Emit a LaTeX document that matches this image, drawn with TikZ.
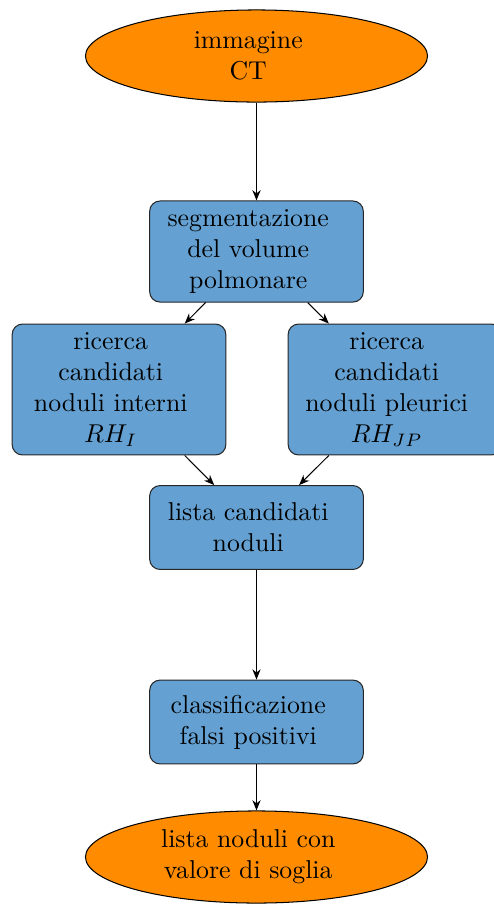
\documentclass[tikz,border=0pt]{standalone}
\usetikzlibrary{shapes.geometric,arrows.meta}
\definecolor{boxblue}{RGB}{100,161,210}
\definecolor{termorange}{RGB}{255,140,0}
\newcommand\padr{\kern6.4pt\relax}
\begin{document}
\begin{tikzpicture}[x=0.3876pt,y=-0.3876pt,
  blk/.style={rectangle, rounded corners=4pt, draw=black!85, fill=boxblue, align=center, minimum width=82.8pt, inner sep=3.33pt},
  term/.style={ellipse, draw=black, fill=termorange, align=center, minimum width=132.6pt, minimum height=35.7pt, inner sep=0pt},
  arr/.style={-{Stealth[length=4pt,width=3.2pt]}}]
\clip (0,0) rectangle (494,909);
\node[term] (ct) at (256.5,56) {immagine\padr\\CT\padr};
\node[blk, minimum height=39pt] (seg) at (256.5,251.5) {segmentazione\padr\\del volume\padr\\polmonare\padr};
\node[blk, minimum height=50pt] (int) at (119,389.5) {ricerca\padr\\candidati\padr\\noduli interni\padr\\$RH_I$\padr};
\node[blk, minimum height=50pt] (ple) at (395,389.5) {ricerca\padr\\candidati\padr\\noduli pleurici\padr\\$RH_{JP}$\padr};
\node[blk, minimum height=32.5pt] (lista) at (256.5,527.5) {lista candidati\padr\\noduli\padr};
\node[blk, minimum height=32.5pt] (cls) at (256.5,722) {classificazione\padr\\falsi positivi\padr};
\node[term] (out) at (256.5,857) {lista noduli con\padr\\valore di soglia\padr};
\draw[arr] (ct) -- (seg);
\draw[arr] (seg) -- (int);
\draw[arr] (seg) -- (ple);
\draw[arr] (int) -- (lista);
\draw[arr] (ple) -- (lista);
\draw[arr] (lista) -- (cls);
\draw[arr] (cls) -- (out);
\end{tikzpicture}
\end{document}
